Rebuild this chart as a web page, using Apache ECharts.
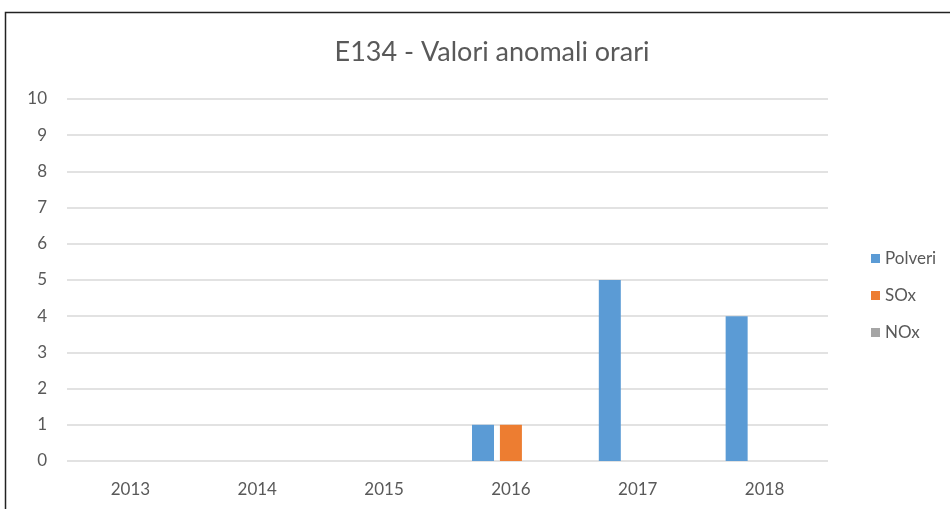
<!DOCTYPE html>
<html>
<head>
<meta charset="utf-8">
<script src="https://cdn.jsdelivr.net/npm/echarts@6/dist/echarts.min.js"></script>
<style>
  html, body { margin: 0; padding: 0; background: #fff; }
  #chart { width: 950px; height: 509px; }
</style>
</head>
<body>
<div id="chart"></div>
<script>
const years = ['2013', '2014', '2015', '2016', '2017', '2018']
const polveri = [0, 0, 0, 1, 5, 4]
const sox = [0, 0, 0, 1, 0, 0]
const nox = [0, 0, 0, 0, 0, 0]

const chart = echarts.init(document.getElementById('chart'))
const font = 'Lato, "Open Sans", sans-serif'

const option = {
  backgroundColor: '#fff',
  animation: false,
  title: {
    text: 'E134 - Valori anomali orari',
    left: 487,
    top: 34,
    textAlign: 'center',
    textStyle: { fontFamily: font, fontSize: 27, fontWeight: 'normal', color: '#595959' }
  },
  graphic: [{
    type: 'rect',
    shape: { x: 5.5, y: 12.5, width: 980, height: 540 },
    style: { fill: 'none', stroke: '#222', lineWidth: 1.5 },
    silent: true
  }],
  legend: {
    orient: 'vertical',
    left: 866,
    top: 245,
    itemWidth: 9,
    itemHeight: 9,
    itemGap: 20,
    icon: 'rect',
    textStyle: { fontFamily: font, fontSize: 17, color: '#595959' },
    data: ['Polveri', 'SOx', 'NOx']
  },
  grid: { left: 67, right: 122, top: 99, bottom: 48 },
  xAxis: {
    type: 'category',
    data: years,
    axisLine: { show: false },
    axisTick: { show: false },
    axisLabel: { fontFamily: font, fontSize: 17, color: '#595959', margin: 20 }
  },
  yAxis: {
    type: 'value',
    min: 0,
    max: 10,
    interval: 1,
    axisLine: { show: false },
    axisTick: { show: false },
    axisLabel: { fontFamily: font, fontSize: 17, color: '#595959', margin: 20 },
    splitLine: { lineStyle: { color: '#d9d9d9', width: 1.5 } }
  },
  series: [
    { name: 'Polveri', type: 'bar', data: polveri, itemStyle: { color: '#5b9bd5' }, barWidth: 22, barGap: '27%', barCategoryGap: '38%' },
    { name: 'SOx', type: 'bar', data: sox, itemStyle: { color: '#ed7d31' }, barWidth: 22, barGap: '27%' },
    { name: 'NOx', type: 'bar', data: nox, itemStyle: { color: '#a5a5a5' }, barWidth: 22, barGap: '27%' }
  ]
}

chart.setOption(option)
</script>
</body>
</html>
